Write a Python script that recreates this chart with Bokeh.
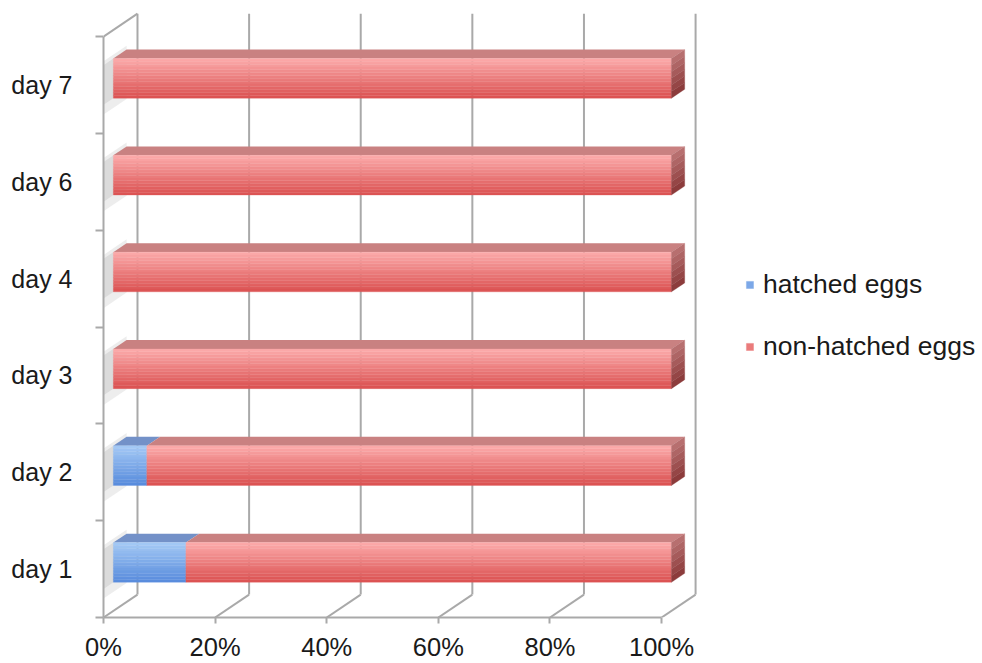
from bokeh.plotting import figure
from bokeh.models import Range1d, FixedTicker, Legend, LegendItem, ColumnDataSource
from bokeh.embed import file_html
from bokeh.resources import INLINE

# ---------------- data ----------------
days = ["day 1", "day 2", "day 3", "day 4", "day 6", "day 7"]
hatched = [13, 6, 0, 0, 0, 0]
non_hatched = [87, 94, 100, 100, 100, 100]
x_ticks = [0, 20, 40, 60, 80, 100]
x_tick_labels = ["0%", "20%", "40%", "60%", "80%", "100%"]
series_names = ["hatched eggs", "non-hatched eggs"]

# ---------------- style ----------------
FONT = "Liberation Sans"
GRID = "#A9A9A9"
STYLE = {
    "hatched eggs": dict(front_top="#A3C8F5", front_bot="#5A8DDD", top="#7391C8",
                         side_top="#6A88BC", side_bot="#3E5F96"),
    "non-hatched eggs": dict(front_top="#FBA8A8", front_bot="#DC5454", top="#C98181",
                             side_top="#B76F6F", side_bot="#8C3C3C"),
}
DX, DY = 6.09, 0.237      # full depth shift (x in %, y in category units)
F0, F1 = 0.29, 0.68       # bar front / back depth
HALF = 0.205              # half bar height (category units)
NSTRIP = 14


def proj(x, y, d):
    return x + d * DX, y + d * DY


def hex2rgb(h):
    h = h.lstrip("#")
    return tuple(int(h[i:i + 2], 16) for i in (0, 2, 4))


def lerp(c1, c2, t):
    a, b = hex2rgb(c1), hex2rgb(c2)
    return "#%02x%02x%02x" % tuple(round(a[i] + (b[i] - a[i]) * t) for i in range(3))


n = len(days)
p = figure(width=982, height=663, output_backend="svg", toolbar_location=None,
           x_range=Range1d(0, 157.5), y_range=Range1d(0, 6.373),
           min_border_left=103, min_border_right=0, min_border_top=0, min_border_bottom=44)
p.grid.visible = False
p.outline_line_color = None
p.background_fill_color = "white"

# ---------------- walls / grid ----------------
gx0, gy0, gx1, gy1 = [], [], [], []
for t in x_ticks:
    a = proj(t, 0, 1)
    b = proj(t, n, 1)
    gx0 += [a[0]]; gy0 += [a[1]]; gx1 += [b[0]]; gy1 += [b[1]]
    a = proj(t, 0, 0)
    b = proj(t, 0, 1)
    gx0 += [a[0]]; gy0 += [a[1]]; gx1 += [b[0]]; gy1 += [b[1]]
a = proj(0, n, 0); b = proj(0, n, 1)
gx0 += [a[0]]; gy0 += [a[1]]; gx1 += [b[0]]; gy1 += [b[1]]
p.segment(gx0, gy0, gx1, gy1, line_color=GRID, line_width=2)

# ---------------- wall shadows ----------------
for (ext_b, ext_t, d1, alpha) in [(0.10, 0.04, F1, 0.18), (0.0, 0.0, F0 + 0.15, 0.22)]:
    xs, ys = [], []
    for i in range(n):
        c = i + 0.5
        yb, yt = c - HALF - ext_b, c + HALF + ext_t
        pts = [proj(0, yb, 0), proj(0, yt, 0), proj(0, yt, d1), proj(0, yb, d1)]
        xs.append([q[0] for q in pts]); ys.append([q[1] for q in pts])
    p.patches(xs, ys, fill_color="#9A9A9A", fill_alpha=alpha, line_color=None)

# ---------------- bars ----------------
front_renderers = {}
all_vals = [hatched, non_hatched]
for si, (name, vals) in enumerate(zip(series_names, all_vals)):
    st = STYLE[name]
    fl, fr, fb, ft, fc = [], [], [], [], []
    txs, tys, sxs, sys_, scs = [], [], [], [], []
    for i in range(n):
        start = sum(all_vals[j][i] for j in range(si))
        end = start + vals[i]
        if vals[i] <= 0:
            continue
        c = i + 0.5
        yb, yt = c - HALF, c + HALF
        pts = [proj(start, yt, F0), proj(end, yt, F0), proj(end, yt, F1), proj(start, yt, F1)]
        txs.append([q[0] for q in pts]); tys.append([q[1] for q in pts])
        for k in range(NSTRIP):
            s_top = yt - (yt - yb) * k / NSTRIP
            s_bot = yt - (yt - yb) * (k + 1) / NSTRIP
            l, b = proj(start, s_bot, F0)
            r, t = proj(end, s_top, F0)
            fl.append(l); fr.append(r); fb.append(b); ft.append(t)
            fc.append(lerp(st["front_top"], st["front_bot"], k / (NSTRIP - 1)))
        if si == len(series_names) - 1:
            ns = 6
            for k in range(ns):
                s_top = yt - (yt - yb) * k / ns
                s_bot = yt - (yt - yb) * (k + 1) / ns
                pts = [proj(end, s_bot, F0), proj(end, s_top, F0), proj(end, s_top, F1), proj(end, s_bot, F1)]
                sxs.append([q[0] for q in pts]); sys_.append([q[1] for q in pts])
                scs.append(lerp(st["side_top"], st["side_bot"], k / (ns - 1)))
    p.patches(txs, tys, fill_color=st["top"], line_color=None)
    src = ColumnDataSource(dict(left=fl, right=fr, bottom=fb, top=ft, color=fc))
    front_renderers[name] = p.quad(left="left", right="right", bottom="bottom", top="top",
                                   fill_color="color", line_color="color", line_width=0.3, source=src)
    if sxs:
        p.patches(sxs, sys_, fill_color=scs, line_color=scs, line_width=0.3)

# ---------------- axes ----------------
xa = p.xaxis[0]
xa.ticker = FixedTicker(ticks=x_ticks)
xa.major_label_overrides = {t: l for t, l in zip(x_ticks, x_tick_labels)}
xa.bounds = (0, 100)
xa.axis_line_color = GRID
xa.axis_line_width = 2
xa.major_tick_line_color = GRID
xa.major_tick_line_width = 2
xa.major_tick_out = 6
xa.major_tick_in = 0
xa.minor_tick_line_color = None
xa.major_label_standoff = 9
xa.major_label_text_font = FONT
xa.major_label_text_font_size = "25.5px"
xa.major_label_text_color = "#1a1a1a"

ya = p.yaxis[0]
centers = [i + 0.5 for i in range(n)]
ya.ticker = FixedTicker(ticks=centers, minor_ticks=list(range(n + 1)))
ya.major_label_overrides = {c: d for c, d in zip(centers, days)}
ya.bounds = (0, n)
ya.axis_line_color = GRID
ya.axis_line_width = 2
ya.major_tick_line_color = None
ya.major_tick_out = 0
ya.major_tick_in = 0
ya.minor_tick_line_color = GRID
ya.minor_tick_line_width = 2
ya.minor_tick_out = 8
ya.minor_tick_in = 0
ya.major_label_standoff = 23
ya.major_label_text_font = FONT
ya.major_label_text_font_size = "25px"
ya.major_label_text_color = "#1a1a1a"

# ---------------- legend ----------------
legend = Legend(items=[LegendItem(label=nm, renderers=[front_renderers[nm]], index=NSTRIP // 2)
                       for nm in series_names],
                location=(642, 255), glyph_width=9, glyph_height=9,
                label_text_font=FONT, label_text_font_size="26.5px", label_text_color="#1a1a1a",
                label_standoff=9, spacing=31, padding=0, margin=0,
                border_line_color=None, background_fill_alpha=0)
p.add_layout(legend)

open("out.html", "w").write(file_html(p, INLINE))
